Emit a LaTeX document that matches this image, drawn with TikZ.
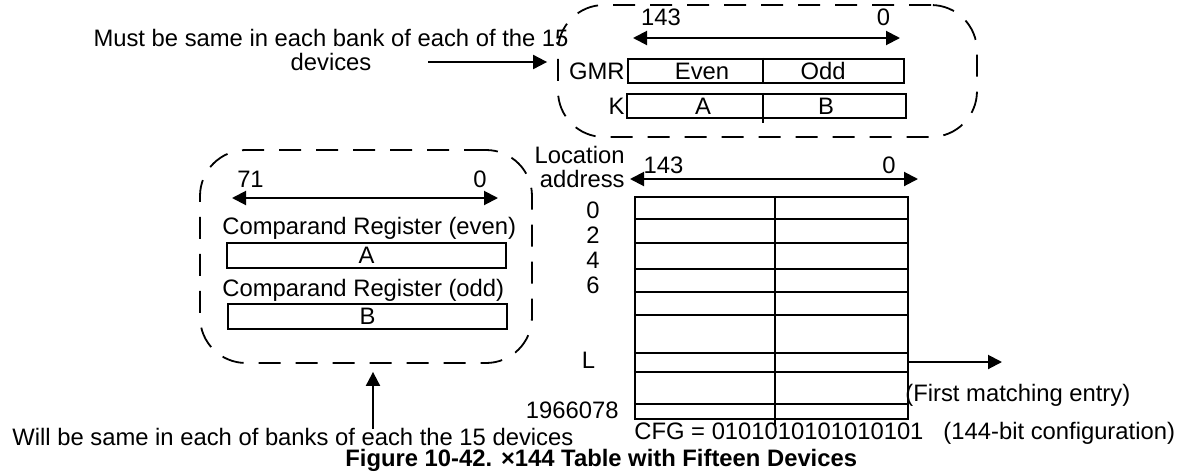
\documentclass[tikz,border=0pt]{standalone}
\usepackage{fontspec}
\setmainfont{Liberation Sans}
\usetikzlibrary{arrows.meta}
\newcommand{\fsz}{\fontsize{11.9}{12}\selectfont}
\tikzset{
  txt/.style={font=\fsz, inner sep=0pt},
  grp/.style={draw, line width=0.9pt, dash pattern=on 11pt off 7.5pt, rounded corners=23pt},
  reg/.style={draw, line width=1.1pt, font=\fsz, inner sep=0pt, minimum height=12pt},
  rowline/.style={line width=1.1pt},
  arrow/.style={-{Triangle[length=7pt,width=7pt]}, line width=1pt},
  bitspan/.style={{Triangle[length=7pt,width=7pt]}-{Triangle[length=7pt,width=7pt]}, line width=1pt}
}

\begin{document}
\begin{tikzpicture}[x=0.5pt, y=-0.5pt]
\useasboundingbox (0,0) rectangle (1184,472);

% global mask register and K, shared by all devices
\node[grp, minimum width=209.5pt, minimum height=66pt] (topgrp) at (767.5,71) {};
\coordinate (topmsb) at (633,38);
\coordinate (toplsb) at (900,38);
\draw[bitspan] (topmsb) -- (toplsb);
\node[txt, anchor=base] (top143) at (661,25) {143};
\node[txt, anchor=base] (top0) at (883.5,25) {0};

\coordinate (gmrmid) at (763,0);
\node[reg, minimum width=138pt] (gmr) at (766,71) {};
\draw[rowline] (gmr.north -| gmrmid) -- (gmr.south -| gmrmid);
\node[txt, anchor=base] (even) at (702,79) {Even};
\node[txt, anchor=base] (odd) at (823,79) {Odd};
\node[txt, anchor=base east] (gmrlbl) at (625,79) {GMR};

\node[reg, minimum width=139.5pt] (kreg) at (766.5,106) {};
\draw[rowline] (kreg.north -| gmrmid) -- ([yshift=-2pt]kreg.south -| gmrmid);
\node[txt, anchor=base] (ka) at (703,114) {A};
\node[txt, anchor=base] (kb) at (826,114) {B};
\node[txt, anchor=base east] (klbl) at (625,114) {K};

\node[txt, align=center] (must) at (331,50)
  {Must be same in each bank of each of the 15\\devices};
\coordinate (mustarr) at (428,62);
\draw[arrow, shorten >=5pt] (mustarr) -- (topgrp.west |- mustarr);

% comparand registers
\node[grp, minimum width=166pt, minimum height=106.5pt] (botgrp) at (366,256.5) {};
\coordinate (cmpmsb) at (232,198);
\coordinate (cmplsb) at (498,198);
\draw[bitspan] (cmpmsb) -- (cmplsb);
\node[txt, anchor=base] (lo71) at (250.5,187) {71};
\node[txt, anchor=base] (lo0) at (480,187) {0};
\node[txt, anchor=base west] (evenlbl) at (222,234) {Comparand Register (even)};
\node[reg, minimum width=139.5pt, minimum height=12.5pt] (cmpa) at (366.5,255.5) {A};
\node[txt, anchor=base west] (oddlbl) at (222,296) {Comparand Register (odd)};
\node[reg, minimum width=139.5pt, minimum height=12.5pt] (cmpb) at (367.5,316.5) {B};

\node[txt, anchor=base west] (will) at (12,445)
  {Will be same in each of banks of each the 15 devices};
\coordinate (willup) at (373,429);
\draw[arrow, shorten >=4pt] (willup) -- (botgrp.south -| willup);

% the x144 table
\node[txt, anchor=base east] (loc) at (625,163) {Location};
\node[txt, anchor=base east] (addr) at (625,187) {address};
\coordinate (tblmsb) at (630,179);
\coordinate (tbllsb) at (918,179);
\draw[bitspan] (tblmsb) -- (tbllsb);
\node[txt, anchor=base] (tbl143) at (663.5,173) {143};
\node[txt, anchor=base] (tbl0) at (889,173) {0};

\node[reg, minimum width=136.5pt, minimum height=111pt] (tbl) at (771.5,308) {};
\draw[rowline] (tbl.west |- 0,219) -- (tbl.east |- 0,219);
\draw[rowline] (tbl.west |- 0,243) -- (tbl.east |- 0,243);
\draw[rowline] (tbl.west |- 0,269) -- (tbl.east |- 0,269);
\draw[rowline] (tbl.west |- 0,292) -- (tbl.east |- 0,292);
\draw[rowline] (tbl.west |- 0,315) -- (tbl.east |- 0,315);
\draw[rowline] (tbl.west |- 0,353) -- (tbl.east |- 0,353);
\draw[rowline] (tbl.west |- 0,372) -- (tbl.east |- 0,372);
\draw[rowline] (tbl.west |- 0,404) -- (tbl.east |- 0,404);
\coordinate (tblmid) at (775,0);
\draw[rowline] (tbl.north -| tblmid) -- ([yshift=-2.5pt]tbl.south -| tblmid);

\node[txt, anchor=base] (r0) at (593,218) {0};
\node[txt, anchor=base] (r2) at (593,243) {2};
\node[txt, anchor=base] (r4) at (593,268) {4};
\node[txt, anchor=base] (r6) at (593,293) {6};
\node[txt, anchor=base] (rl) at (588.5,368) {L};
\node[txt, anchor=base east] (rlast) at (619,418) {1966078};

\coordinate (match) at (1002,362);
\draw[arrow] (tbl.east |- match) -- (match);
\node[txt, anchor=base west] (matchlbl) at (905,401) {(First matching entry)};
\node[txt, anchor=base west] (cfg) at (634,439)
  {CFG = 0101010101010101\hspace{10pt}(144-bit configuration)};

\node[txt, font=\fsz\bfseries, anchor=base west] (caption) at (345,466)
  {Figure 10-42. ×144 Table with Fifteen Devices};
\end{tikzpicture}
\end{document}
